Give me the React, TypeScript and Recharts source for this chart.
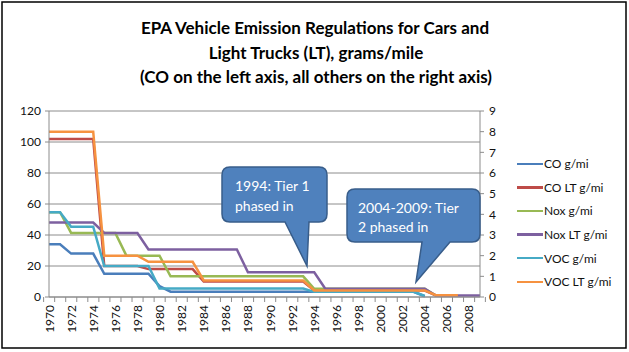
import React from "react";
import { CartesianGrid, Line, LineChart, XAxis, YAxis } from "recharts";

// model years on the category axis
const years = [
  "1970", "1971", "1972", "1973", "1974", "1975", "1976", "1977", "1978", "1979",
  "1980", "1981", "1982", "1983", "1984", "1985", "1986", "1987", "1988", "1989",
  "1990", "1991", "1992", "1993", "1994", "1995", "1996", "1997", "1998", "1999",
  "2000", "2001", "2002", "2003", "2004", "2005", "2006", "2007", "2008", "2009",
];

// left axis (g/mi)
const coCars = [
  34, 34, 28, 28, 28, 15, 15, 15, 15, 15,
  7, 3.4, 3.4, 3.4, 3.4, 3.4, 3.4, 3.4, 3.4, 3.4,
  3.4, 3.4, 3.4, 3.4, 3.4, 3.4, 3.4, 3.4, 3.4, 3.4,
  3.4, 3.4, 3.4, 3.4, 0.5, null, null, null, null, null,
];
const coTrucks = [
  102, 102, 102, 102, 102, 20, 20, 20, 20, 18,
  18, 18, 18, 18, 10, 10, 10, 10, 10, 10,
  10, 10, 10, 10, 4.2, 4.2, 4.2, 4.2, 4.2, 4.2,
  4.2, 4.2, 4.2, 4.2, 4.2, 1.0, null, null, null, null,
];

// right axis (g/mi)
const noxCars = [
  4.1, 4.1, 3.1, 3.1, 3.1, 3.1, 3.1, 2.0, 2.0, 2.0,
  2.0, 1.0, 1.0, 1.0, 1.0, 1.0, 1.0, 1.0, 1.0, 1.0,
  1.0, 1.0, 1.0, 1.0, 0.4, 0.4, 0.4, 0.4, 0.4, 0.4,
  0.4, 0.4, 0.4, 0.4, 0.4, 0.07, null, null, null, null,
];
const noxTrucks = [
  3.6, 3.6, 3.6, 3.6, 3.6, 3.1, 3.1, 3.1, 3.1, 2.3,
  2.3, 2.3, 2.3, 2.3, 2.3, 2.3, 2.3, 2.3, 1.2, 1.2,
  1.2, 1.2, 1.2, 1.2, 1.2, 0.4, 0.4, 0.4, 0.4, 0.4,
  0.4, 0.4, 0.4, 0.4, 0.4, 0.07, 0.07, 0.07, 0.07, 0.07,
];
const vocCars = [
  4.1, 4.1, 3.4, 3.4, 3.4, 1.5, 1.5, 1.5, 1.5, 1.5,
  0.41, 0.41, 0.41, 0.41, 0.41, 0.41, 0.41, 0.41, 0.41, 0.41,
  0.41, 0.41, 0.41, 0.41, 0.25, 0.25, 0.25, 0.25, 0.25, 0.25,
  0.25, 0.25, 0.25, 0.25, 0.05, null, null, null, null, null,
];
const vocTrucks = [
  8.0, 8.0, 8.0, 8.0, 8.0, 2.0, 2.0, 2.0, 2.0, 1.7,
  1.7, 1.7, 1.7, 1.7, 0.8, 0.8, 0.8, 0.8, 0.8, 0.8,
  0.8, 0.8, 0.8, 0.8, 0.32, 0.32, 0.32, 0.32, 0.32, 0.32,
  0.32, 0.32, 0.32, 0.32, 0.32, 0.09, 0.09, 0.09, null, null,
];

const leftTicks = [0, 20, 40, 60, 80, 100, 120];
const rightTicks = [0, 1, 2, 3, 4, 5, 6, 7, 8, 9];

const series = [
  { key: "co", name: "CO g/mi", color: "#4A7EBB", axis: "left" },
  { key: "coLt", name: "CO LT g/mi", color: "#BE4B48", axis: "left" },
  { key: "nox", name: "Nox g/mi", color: "#98B954", axis: "right" },
  { key: "noxLt", name: "Nox LT g/mi", color: "#7D60A0", axis: "right" },
  { key: "voc", name: "VOC g/mi", color: "#46AAC5", axis: "right" },
  { key: "vocLt", name: "VOC LT g/mi", color: "#F69240", axis: "right" },
];

const data = years.map((year, i) => ({
  year,
  co: coCars[i],
  coLt: coTrucks[i],
  nox: noxCars[i],
  noxLt: noxTrucks[i],
  voc: vocCars[i],
  vocLt: vocTrucks[i],
}));

const FONT = "Lato, 'Open Sans', sans-serif";
const GRID = "#8C8C8C";
const W = 629;
const H = 352;
const PLOT_LEFT = 49;
const PLOT_RIGHT = 480;
const STEP = (PLOT_RIGHT - PLOT_LEFT) / years.length;

const YearTick = (props: any) => {
  const { x, y, payload, index } = props;
  const ty = y + 8;
  return (
    <g>
      <line x1={x - STEP / 2} x2={x - STEP / 2} y1={y} y2={y + 5} stroke={GRID} />
      {index === years.length - 1 && (
        <line x1={x + STEP / 2} x2={x + STEP / 2} y1={y} y2={y + 5} stroke={GRID} />
      )}
      {index % 2 === 0 && (
        <text
          x={x}
          y={ty}
          transform={`rotate(-90, ${x}, ${ty})`}
          textAnchor="end"
          dominantBaseline="central"
          fontSize={12}
          fontFamily={FONT}
          fill="#111"
        >
          {payload.value}
        </text>
      )}
    </g>
  );
};

const SeriesLegend = () => (
  <div
    style={{
      position: "absolute",
      left: 517,
      top: 152,
      fontFamily: FONT,
      fontSize: 12,
      color: "#111",
    }}
  >
    {series.map((s) => (
      <div key={s.key} style={{ display: "flex", alignItems: "center", height: 23.6 }}>
        <span style={{ display: "inline-block", width: 26, height: 2.5, background: s.color }} />
        <span style={{ marginLeft: 1 }}>{s.name}</span>
      </div>
    ))}
  </div>
);

const App: React.FC = () => {
  return (
    <div style={{ position: "relative", width: W, height: H, background: "#fff" }}>
      <style>{`body{margin:0}`}</style>
      <LineChart
        width={W}
        height={H}
        data={data}
        margin={{ top: 111, right: 119, bottom: 15, left: 0 }}
      >
        <CartesianGrid yAxisId="left" vertical={false} stroke={GRID} strokeWidth={1} />
        <XAxis
          dataKey="year"
          interval={0}
          height={40}
          tickLine={false}
          tickSize={0}
          tickMargin={0}
          stroke={GRID}
          tick={<YearTick />}
        />
        <YAxis
          yAxisId="left"
          orientation="left"
          width={49}
          domain={[0, 120]}
          ticks={leftTicks}
          tickSize={4}
          tickMargin={4}
          stroke={GRID}
          tick={{ fill: "#111", fontSize: 12, fontFamily: FONT }}
        />
        <YAxis
          yAxisId="right"
          orientation="right"
          width={30}
          domain={[0, 9]}
          ticks={rightTicks}
          tickSize={4}
          tickMargin={5}
          stroke={GRID}
          tick={{ fill: "#111", fontSize: 12, fontFamily: FONT }}
        />
        {series.map((s) => (
          <Line
            key={s.key}
            yAxisId={s.axis}
            type="linear"
            dataKey={s.key}
            name={s.name}
            stroke={s.color}
            strokeWidth={2.5}
            dot={false}
            activeDot={false}
            isAnimationActive={false}
          />
        ))}
      </LineChart>
      <SeriesLegend />

      <svg
        width={W}
        height={H}
        style={{ position: "absolute", left: 0, top: 0, pointerEvents: "none" }}
      >
        <rect x={2} y={2} width={W - 5} height={H - 6} fill="none" stroke="#000" strokeWidth={1.5} />
        <g fontFamily={FONT} fontWeight="bold" fill="#000" textAnchor="middle">
          <text x={315} y={27} fontSize={17} dominantBaseline="central">
            EPA Vehicle Emission Regulations for Cars and
          </text>
          <text x={316} y={52} fontSize={17} dominantBaseline="central">
            Light Trucks (LT), grams/mile
          </text>
          <text x={316} y={76} fontSize={17} dominantBaseline="central">
            (CO on the left axis, all others on the right axis)
          </text>
        </g>

        <path
          d="M 230 167 H 319 Q 327 167 327 175 V 214 Q 327 222 319 222 H 309 L 307 266 L 285 222 H 230 Q 222 222 222 214 V 175 Q 222 167 230 167 Z"
          fill="#4F81BD"
          stroke="#385D8A"
          strokeWidth={1.5}
        />
        <path
          d="M 355 189 H 472 Q 480 189 480 197 V 234 Q 480 242 472 242 H 450 L 416 282 L 422 242 H 355 Q 347 242 347 234 V 197 Q 347 189 355 189 Z"
          fill="#4F81BD"
          stroke="#385D8A"
          strokeWidth={1.5}
        />
        <g fontFamily={FONT} fontSize={14} fill="#fff">
          <text x={235} y={185} dominantBaseline="central">1994: Tier 1</text>
          <text x={235} y={205} dominantBaseline="central">phased in</text>
          <text x={358} y={207} dominantBaseline="central">2004-2009: Tier</text>
          <text x={358} y={226} dominantBaseline="central">2 phased in</text>
        </g>
      </svg>
    </div>
  );
};

export default App;
